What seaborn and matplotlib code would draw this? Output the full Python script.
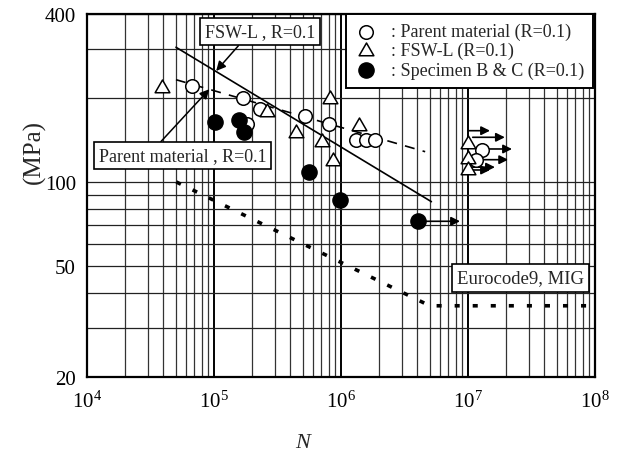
import numpy as np
import pandas as pd
import seaborn as sns
import matplotlib.pyplot as plt
from matplotlib.path import Path
from matplotlib.ticker import FixedLocator, FixedFormatter, LogLocator, NullFormatter

sns.set_style("white")
plt.rcParams['font.family'] = ['Liberation Serif', 'DejaVu Serif']
plt.rcParams['mathtext.fontset'] = 'custom'
plt.rcParams['mathtext.rm'] = 'Liberation Serif'
plt.rcParams['mathtext.it'] = 'Liberation Serif:italic'

# fatigue test results (N cycles, stress range MPa)
parent_N = [6.7e4, 1.68e5, 2.3e5, 1.83e5, 5.2e5, 8.1e5, 1.31e6, 1.56e6, 1.86e6, 1.28e7, 1.16e7]
parent_S = [220, 200, 183, 161, 172, 161, 141, 141, 141, 130.5, 120]

fsw_N = [3.9e4, 2.6e5, 4.4e5, 8.2e5, 7.05e5, 8.7e5, 1.39e6, 1.0e7, 1.0e7, 1.0e7]
fsw_S = [218, 178, 150, 198, 139, 119, 159, 137, 121, 110]

spec_N = [1.02e5, 1.57e5, 1.73e5, 5.6e5, 9.75e5, 4.06e6]
spec_S = [164, 167, 151, 109, 86, 72.3]

# run-out arrows
arrow_N0 = [1.02e7, 1.09e7, 1.41e7, 1.24e7, 1.09e7, 1.09e7, 4.65e6]
arrow_N1 = [1.49e7, 1.95e7, 2.22e7, 2.07e7, 1.63e7, 1.49e7, 8.65e6]
arrow_S = [152.7, 144.6, 131.3, 120.2, 113, 110.4, 72.3]

# design / fitted S-N lines
fswline_N = [5.02e4, 5.15e6]
fswline_S = [304, 85]
parentline_N = [5.02e4, 4.6e6]
parentline_S = [232.6, 128.4]
euro_N = [5.05e4, 5.0e6, 1e8]
euro_S = [100, 36, 36]

xticks = [1e4, 1e5, 1e6, 1e7, 1e8]
xticklabels = ['$10^{4}$', '$10^{5}$', '$10^{6}$', '$10^{7}$', '$10^{8}$']
yticks = [20, 50, 100, 400]
yticklabels = ['20', '50', '100', '400']
yminor = [30, 40, 60, 70, 80, 90, 200, 300]

# equilateral triangle (flatter than mpl '^')
tri = Path([(-1, -0.577), (1, -0.577), (0, 1.155), (-1, -0.577)],
           [Path.MOVETO, Path.LINETO, Path.LINETO, Path.CLOSEPOLY])

fig = plt.figure(figsize=(6.17, 4.52), dpi=100)
ax = fig.add_axes([87/617, 1 - 378/452, 508/617, 363/452])

ax.set_xscale('log')
ax.set_yscale('log')
ax.set_xlim(1e4, 1e8)
ax.set_ylim(20, 400)

# lines
sns.lineplot(x=fswline_N, y=fswline_S, color='black', lw=1.2, ax=ax, zorder=3)
sns.lineplot(x=parentline_N, y=parentline_S, color='black', lw=1.2, ax=ax, zorder=3,
             linestyle=(0, (6, 5)))
sns.lineplot(x=euro_N, y=euro_S, color='black', lw=2.6, ax=ax, zorder=3,
             linestyle=(0, (1.4, 3.6)))

# run-out arrows
for n0, n1, s in zip(arrow_N0, arrow_N1, arrow_S):
    ax.annotate('', xy=(n1, s), xytext=(n0, s), zorder=3,
                arrowprops=dict(arrowstyle='-|>', color='black', lw=1.2,
                                shrinkA=0, shrinkB=0, mutation_scale=13))

# markers
sns.scatterplot(x=parent_N, y=parent_S, marker='o', s=95, color='white',
                edgecolor='black', linewidth=1.1, ax=ax, zorder=5,
                label=': Parent material (R=0.1)')
sns.scatterplot(x=fsw_N, y=fsw_S, marker=tri, s=150, color='white',
                edgecolor='black', linewidth=1.1, ax=ax, zorder=5,
                label=': FSW-L (R=0.1)')
sns.scatterplot(x=spec_N, y=spec_S, marker='o', s=120, color='black',
                edgecolor='black', linewidth=1.0, ax=ax, zorder=5,
                label=': Specimen B & C (R=0.1)')

leg = ax.legend(loc='upper right', bbox_to_anchor=(0.997, 1), borderaxespad=0,
                fontsize=13, frameon=True, fancybox=False, framealpha=1,
                borderpad=0.5, labelspacing=0.1, handlelength=1.2,
                handletextpad=0.8)
leg.get_frame().set_edgecolor('black')
leg.get_frame().set_linewidth(1.4)
leg.set_zorder(10)

# text boxes
box = dict(boxstyle='square,pad=0.28', fc='white', ec='black', lw=1.2)
ax.annotate('FSW-L , R=0.1', xy=(1.04e5, 250), xytext=(2.3e5, 346),
            ha='center', va='center', fontsize=13, bbox=box, zorder=8,
            arrowprops=dict(arrowstyle='-|>', color='black', lw=1.1,
                            relpos=(0.35, 0), shrinkA=0, shrinkB=0,
                            mutation_scale=14))
ax.annotate('Parent material , R=0.1', xy=(9.19e4, 215), xytext=(5.65e4, 124.2),
            ha='center', va='center', fontsize=13, bbox=box, zorder=8,
            arrowprops=dict(arrowstyle='-|>', color='black', lw=1.1,
                            relpos=(0.34, 1), shrinkA=0, shrinkB=0,
                            mutation_scale=14))
ax.text(2.6e7, 45.3, 'Eurocode9, MIG', ha='center', va='center',
        fontsize=13.5, bbox=box, zorder=8)

# axes, ticks and grid
ax.xaxis.set_major_locator(FixedLocator(xticks))
ax.xaxis.set_major_formatter(FixedFormatter(xticklabels))
ax.xaxis.set_minor_locator(LogLocator(base=10, subs=range(2, 10)))
ax.xaxis.set_minor_formatter(NullFormatter())
ax.yaxis.set_major_locator(FixedLocator(yticks))
ax.yaxis.set_major_formatter(FixedFormatter(yticklabels))
ax.yaxis.set_minor_locator(FixedLocator(yminor))
ax.yaxis.set_minor_formatter(NullFormatter())

ax.tick_params(which='both', length=0, labelsize=15, colors='black')
ax.tick_params(axis='y', pad=8)
ax.tick_params(axis='x', pad=10)

ax.grid(which='major', axis='x', color='black', lw=1.4)
ax.grid(which='minor', axis='x', color='#333333', lw=0.9)
ax.grid(which='both', axis='y', color='#222222', lw=0.9)
ax.set_axisbelow(True)

for sp in ax.spines.values():
    sp.set_color('black')
    sp.set_linewidth(1.6)

ax.set_xlabel('N', fontsize=16, fontstyle='italic')
ax.set_ylabel('(MPa)', fontsize=18)
ax.xaxis.set_label_coords(0.425, -0.155)
ax.yaxis.set_label_coords(-0.08, 0.623)

plt.savefig('out.png', dpi=100)
